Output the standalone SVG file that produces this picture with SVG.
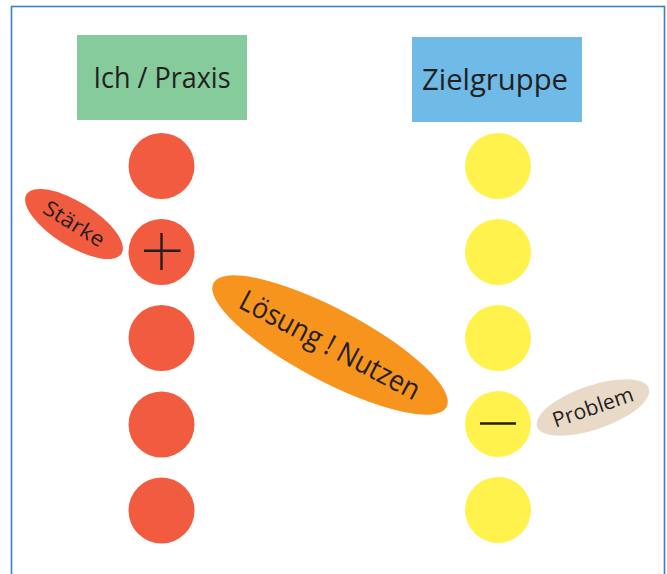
<svg xmlns="http://www.w3.org/2000/svg" width="667" height="574" viewBox="0 0 667 574">
<style>
  .t { font-family: "Open Sans", "Noto Sans", "Liberation Sans", sans-serif; fill: #231f20; }
  .title { font-size: 30px; }
  .lbl { font-size: 21px; }
  .red { fill: #f15b40; }
  .yel { fill: #fff24c; }
  .sign { stroke: #231f20; stroke-width: 2.4; fill: none; }
</style>
<rect x="0" y="0" width="667" height="574" fill="#ffffff"/>
<rect x="11.5" y="6.5" width="653" height="580" fill="none" stroke="#3b7fc4" stroke-width="1.6"/>

<g id="ich-praxis">
  <rect x="77" y="35" width="170" height="85" fill="#86cb9c"/>
  <text class="t title" x="162" y="87.5" text-anchor="middle" textLength="137" lengthAdjust="spacingAndGlyphs">Ich / Praxis</text>
</g>
<g id="zielgruppe">
  <rect x="412" y="37" width="170" height="85" fill="#6fbae6"/>
  <text class="t title" x="495" y="89.5" text-anchor="middle" textLength="146" lengthAdjust="spacingAndGlyphs">Zielgruppe</text>
</g>

<g id="red-column">
  <circle class="red" cx="161.5" cy="166" r="33"/>
  <g id="plus">
    <circle class="red" cx="161.5" cy="252" r="33"/>
    <path class="sign" d="M161.5 233V270M144 250.7H180.5"/>
  </g>
  <circle class="red" cx="161.5" cy="338" r="33"/>
  <circle class="red" cx="161.5" cy="424.5" r="33"/>
  <circle class="red" cx="161.5" cy="510.5" r="33"/>
</g>

<g id="yellow-column">
  <circle class="yel" cx="498" cy="166" r="33"/>
  <circle class="yel" cx="498" cy="252" r="33"/>
  <circle class="yel" cx="498" cy="338" r="33"/>
  <g id="minus">
    <circle class="yel" cx="498" cy="424" r="33"/>
    <path class="sign" d="M480 423.5H516"/>
  </g>
  <circle class="yel" cx="498" cy="510" r="33"/>
</g>

<g id="staerke" transform="translate(74 224) rotate(32)">
  <ellipse cx="0" cy="0" rx="56" ry="22" fill="#f15b40"/>
  <text class="t lbl" x="0" y="7" text-anchor="middle" textLength="68" lengthAdjust="spacingAndGlyphs">Stärke</text>
</g>

<g id="loesung" transform="translate(330 345) rotate(28)">
  <ellipse cx="0" cy="0" rx="132" ry="36" fill="#f7941d"/>
  <text class="t" x="0" y="10" font-size="29" text-anchor="middle" textLength="200" lengthAdjust="spacingAndGlyphs">Lösung ! Nutzen</text>
</g>

<g id="problem" transform="translate(593 407.5) rotate(-19)">
  <ellipse cx="0" cy="0" rx="59" ry="22" fill="#e9dac8"/>
  <text class="t lbl" x="0" y="7" text-anchor="middle" textLength="84" lengthAdjust="spacingAndGlyphs">Problem</text>
</g>

<g id="connectors"></g>
</svg>
